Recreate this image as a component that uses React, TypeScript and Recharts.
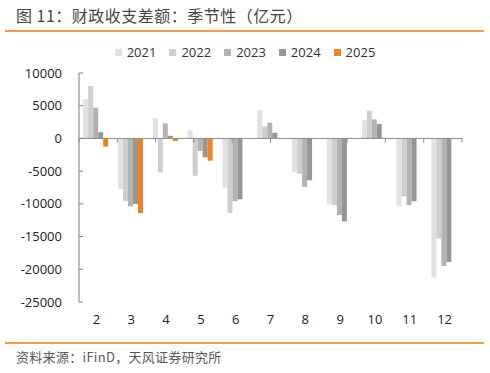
import React from 'react';
import { BarChart, Bar, XAxis, YAxis, ReferenceLine, Legend } from 'recharts';

const months = ['2', '3', '4', '5', '6', '7', '8', '9', '10', '11', '12'];
const s2021 = [6000, -7700, 3100, 1250, -7500, 4300, -5200, -10100, 2800, -10300, -21200];
const s2022 = [8000, -9600, -5200, -5700, -11400, 1850, -5400, -10200, 4250, -8850, -15300];
const s2023 = [4700, -10400, 2300, -1900, -9600, 2400, -7400, -11700, 2900, -10200, -19500];
const s2024 = [950, -10000, 400, -2900, -9300, 850, -6400, -12700, 2200, -9600, -18900];
const s2025: (number | null)[] = [-1250, -11400, -400, -3400, null, null, null, null, null, null, null];
const seriesNames = ['2021', '2022', '2023', '2024', '2025'];
const seriesColors = ['#e1e1e1', '#cecece', '#b3b3b3', '#969696', '#f5821f'];
const yTicks = [10000, 5000, 0, -5000, -10000, -15000, -20000, -25000];
const boundaries = [0, 1, 2, 3, 4, 5, 6, 7, 8, 9, 10, 11];

const data = months.map((m, i) => ({
  month: m,
  '2021': s2021[i],
  '2022': s2022[i],
  '2023': s2023[i],
  '2024': s2024[i],
  '2025': s2025[i],
}));

const FONT = '"Open Sans", "Noto Sans CJK SC", sans-serif';
const CJK = '"Noto Sans CJK SC", sans-serif';

const renderLegend = (props: any) => {
  const payload = props.payload || [];
  return (
    <div style={{ display: 'flex', justifyContent: 'center', fontFamily: FONT, fontSize: 13, color: '#333' }}>
      {payload.map((p: any, i: number) => (
        <div key={i} style={{ display: 'flex', alignItems: 'center', marginRight: i < payload.length - 1 ? 13 : 0 }}>
          <span style={{ display: 'inline-block', width: 7, height: 7, background: p.color, marginRight: 5 }} />
          <span>{p.value}</span>
        </div>
      ))}
    </div>
  );
};

export default function App() {
  return (
    <div style={{ position: 'absolute', left: 0, top: 0, width: 490, height: 373, background: '#fff', overflow: 'hidden' }}>
      <div style={{ position: 'absolute', left: 16, top: 5, fontFamily: CJK, fontSize: 16, lineHeight: '20px', letterSpacing: 0.5, color: '#454545', whiteSpace: 'nowrap' }}>
        图 11：财政收支差额：季节性（亿元）
      </div>
      <div style={{ position: 'absolute', left: 5, top: 30, width: 479, height: 2, background: '#f39a4c' }} />
      <div style={{ position: 'absolute', left: 0, top: 0 }}>
        <BarChart
          width={490}
          height={373}
          data={data}
          margin={{ top: 73, right: 28, bottom: 41, left: 0 }}
          barCategoryGap="12%"
          barGap={0}
        >
          <XAxis
            dataKey="month"
            axisLine={false}
            tickLine={false}
            tickSize={0}
            tickMargin={13}
            height={30}
            interval={0}
            tick={{ fontFamily: FONT, fontSize: 13, fill: '#222' }}
          />
          <XAxis xAxisId="pos" type="number" domain={[0, 11]} hide allowDataOverflow />
          <YAxis
            width={79}
            domain={[-25000, 10000]}
            ticks={yTicks}
            interval={0}
            axisLine={{ stroke: '#7f7f7f' }}
            tickLine={{ stroke: '#7f7f7f' }}
            tickSize={-4}
            tickMargin={21}
            tick={{ fontFamily: FONT, fontSize: 13, fill: '#222' }}
          />
          <Legend
            layout="horizontal"
            verticalAlign="middle"
            align="center"
            content={renderLegend}
            wrapperStyle={{ position: 'absolute', top: 43, left: 0, width: 490 }}
          />
          {seriesNames.map((name, i) => (
            <Bar key={name} dataKey={name} name={name} fill={seriesColors[i]} isAnimationActive={false} />
          ))}
          <ReferenceLine y={0} stroke="#8c8c8c" strokeWidth={1} />
          {boundaries.map((b) => (
            <ReferenceLine
              key={b}
              xAxisId="pos"
              segment={[{ x: b, y: 0 }, { x: b, y: -650 }]}
              stroke="#8c8c8c"
              strokeWidth={1}
              ifOverflow="visible"
            />
          ))}
        </BarChart>
      </div>
      <div style={{ position: 'absolute', left: 5, top: 342, width: 479, height: 2, background: '#f39a4c' }} />
      <div style={{ position: 'absolute', left: 16, top: 348, fontFamily: CJK, fontSize: 13, lineHeight: '18px', letterSpacing: 0.3, color: '#595959', whiteSpace: 'nowrap' }}>
        资料来源：iFinD，天风证券研究所
      </div>
    </div>
  );
}
